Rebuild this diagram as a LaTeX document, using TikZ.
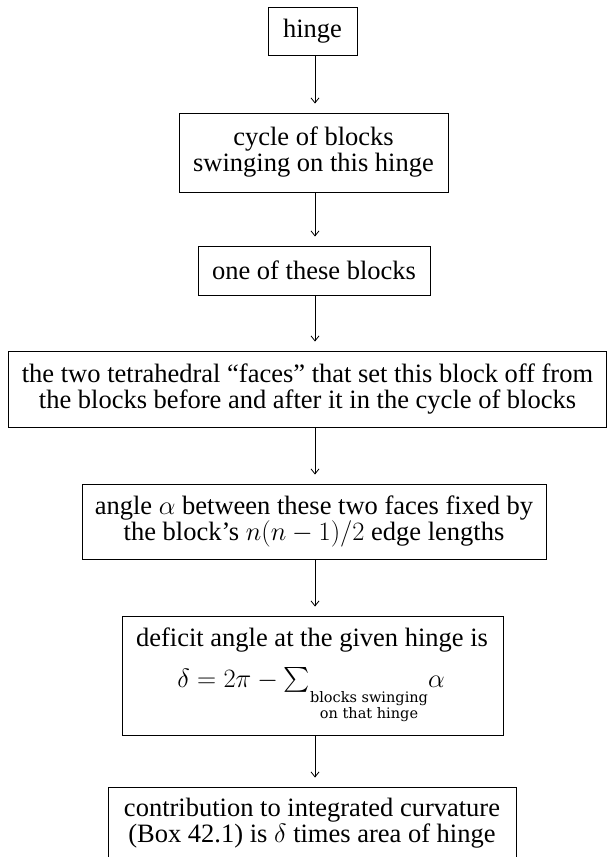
\RequirePackage{fix-cm}
\documentclass[tikz,border=0pt]{standalone}
\usepackage{exscale}
\usepackage{fontspec}
\setmainfont{Liberation Serif}
\newfontfamily\subfont{DejaVu Serif}
\usetikzlibrary{arrows.meta}
\begin{document}
\begin{tikzpicture}[x=1pt,y=-1pt,
  every node/.style={font=\fontsize{26.5}{26}\selectfont, inner sep=0pt, align=center},
  box/.style={draw, line width=0.9pt},
  arr/.style={line width=0.8pt, -{Straight Barb[length=5pt,width=8pt]}, shorten >=9pt}]
\clip (0,0) rectangle (607,857);
\coordinate (ax) at (315,0);
\node[box, minimum width=89pt, minimum height=48pt] (hinge) at (312.5,31) {hinge};
\node[box, minimum width=269pt, minimum height=79pt] (cycle) at (313.5,152.5) {cycle of blocks\\swinging on this hinge};
\node[box, minimum width=232pt, minimum height=49pt] (one) at (314,270.5) {one of these blocks};
\node[box, minimum width=598pt, minimum height=76pt] (faces) at (307.5,389) {the two tetrahedral “faces” that set this block off from\\the blocks before and after it in the cycle of blocks};
\node[box, minimum width=464pt, minimum height=75pt] (angle) at (314,521.5) {angle $\alpha$ between these two faces fixed by\\the block’s $n(n-1)/2$ edge lengths};
\node[box, minimum width=381pt, minimum height=119pt] (deficit) at (312.5,675.5) {};
\node (deftxt) at (312,640) {deficit angle at the given hinge is};
\node[anchor=base] (formula) at (311,687) {$\delta = 2\pi - {\textstyle\sum}$\raisebox{-31pt}{\subfont\fontsize{14.5}{15.5}\selectfont\begin{tabular}[b]{@{}c@{}}blocks swinging\\on that hinge\end{tabular}}$\alpha$};
\node[box, minimum width=408pt, minimum height=150pt] (last) at (312,862) {};
\node (lasttxt) at (312,823.5) {contribution to integrated curvature\\(Box 42.1) is $\delta$ times area of hinge};
\draw[arr] (hinge.south -| ax) -- (cycle.north -| ax);
\draw[arr] (cycle.south -| ax) -- (one.north -| ax);
\draw[arr] (one.south -| ax) -- (faces.north -| ax);
\draw[arr] (faces.south -| ax) -- (angle.north -| ax);
\draw[arr] (angle.south -| ax) -- (deficit.north -| ax);
\draw[arr] (deficit.south -| ax) -- (last.north -| ax);
\end{tikzpicture}
\end{document}
